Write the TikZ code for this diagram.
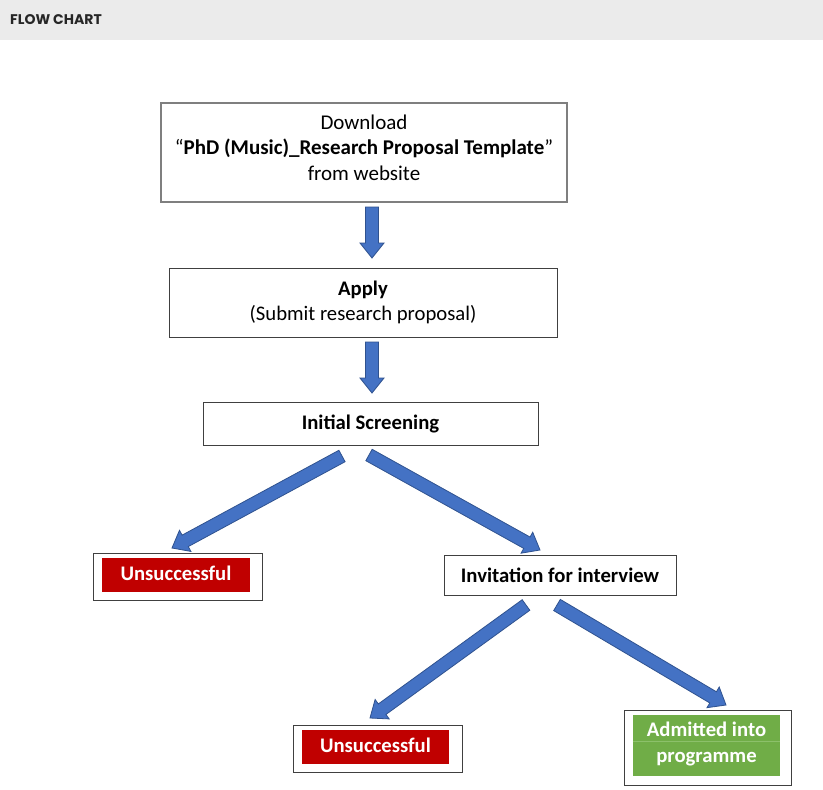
\documentclass[tikz,border=0pt]{standalone}
\usepackage{fontspec}
\setmainfont{Carlito}
\newfontfamily\hdfont{Poppins}
\usetikzlibrary{calc}
\definecolor{arrblue}{HTML}{4472C4}
\definecolor{arredge}{HTML}{2F528F}
\definecolor{failred}{HTML}{C00000}
\definecolor{okgreen}{HTML}{70AD47}
\definecolor{okline}{HTML}{8CC06A}
\definecolor{band}{HTML}{EBEBEB}
\definecolor{boxline}{HTML}{404040}
\definecolor{greyline}{HTML}{7F7F7F}
\definecolor{hdtext}{HTML}{262626}
\newcommand\blockarrow[2]{%
  \coordinate (ah) at ($(#2)!15pt!(#1)$);
  \filldraw[arrowfill] ($(#1)!6.5pt!90:(#2)$) -- ($(ah)!6.5pt!90:(#2)$) -- ($(ah)!12pt!90:(#2)$) -- (#2) -- ($(ah)!12pt!-90:(#2)$) -- ($(ah)!6.5pt!-90:(#2)$) -- ($(#1)!6.5pt!-90:(#2)$) -- cycle;
}
\begin{document}
\begin{tikzpicture}[x=1pt,y=-1pt,
  box/.style={draw=boxline, line width=0.9pt, fill=white, inner sep=0pt, align=center, font=\fontsize{20.7}{25}\selectfont},
  frame/.style={draw=boxline, line width=0.9pt, fill=white, inner sep=0pt},
  txt/.style={inner sep=0pt, align=center, font=\fontsize{21}{25.5}\selectfont},
  tag/.style={inner sep=0pt, align=center, text=white, font=\fontsize{20.7}{26}\selectfont\bfseries},
  arrowfill/.style={fill=arrblue, draw=arredge, line width=0.8pt, line join=miter}]
\useasboundingbox (0,0) rectangle (823,790);
\fill[white] (0,0) rectangle (823,790);
\fill[band] (0,0) rectangle (823,40);
\node[anchor=west, inner sep=0pt, font=\hdfont\bfseries\fontsize{14}{16}\selectfont, text=hdtext] (hd) at (10,19.5) {FLOW CHART};

\node[frame, draw=greyline, line width=1.1pt, minimum width=406pt, minimum height=99pt] (dl) at (364,152.5) {};
\node[txt] (dltxt) at (364,147.5)
  {Download\\“\textbf{PhD (Music)\_Research Proposal Template}”\\from website};
\node[box, minimum width=388pt, minimum height=69pt] (ap) at (363,302.5)
  {\textbf{Apply}\\(Submit research proposal)};
\node[box, minimum width=335pt, minimum height=43pt] (is) at (370.5,423.5) {\textbf{Initial Screening}};
\node[box, minimum width=232pt, minimum height=40pt] (iv) at (560,575) {\textbf{Invitation for interview}};

\node[frame, minimum width=169pt, minimum height=47pt] (u1) at (177.5,576.5) {};
\node[tag, fill=failred, minimum width=148pt, minimum height=34pt] (u1t) at (176,575) {};
\node[tag] (u1txt) at (176,573) {Unsuccessful};
\node[frame, minimum width=169pt, minimum height=47pt] (u2) at (377.5,748.5) {};
\node[tag, fill=failred, minimum width=147pt, minimum height=34pt] (u2t) at (375.5,747) {};
\node[tag] (u2txt) at (375.5,745) {Unsuccessful};
\node[frame, minimum width=167pt, minimum height=75pt] (ad) at (707.5,747.5) {};
\node[tag, fill=okgreen, minimum width=147pt, minimum height=61pt] (adt) at (706.5,745.5) {};
\draw[okline, line width=0.5pt] (adt.west |- 0,741) -- (adt.east |- 0,741);
\node[tag] (adtxt) at (706.5,743.5) {Admitted into\\programme};

\coordinate (a1s) at (372,207); \coordinate (a1e) at (372,258);
\coordinate (a2s) at (372,342); \coordinate (a2e) at (372,393);
\coordinate (d1s) at (342,456); \coordinate (d1e) at (172,548);
\coordinate (d2s) at (369,455); \coordinate (d2e) at (540,550);
\coordinate (d3s) at (526,605); \coordinate (d3e) at (370,718);
\coordinate (d4s) at (557,605); \coordinate (d4e) at (726,705);
\blockarrow{a1s}{a1e}
\blockarrow{a2s}{a2e}
\blockarrow{d1s}{d1e}
\blockarrow{d2s}{d2e}
\blockarrow{d3s}{d3e}
\blockarrow{d4s}{d4e}
\end{tikzpicture}
\end{document}
